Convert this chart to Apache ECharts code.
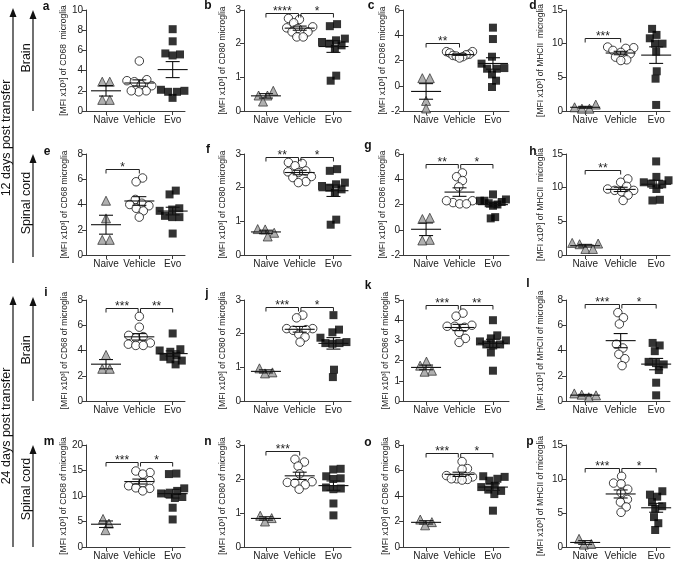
<!DOCTYPE html>
<html><head><meta charset="utf-8">
<script src="https://cdn.jsdelivr.net/npm/echarts@6/dist/echarts.min.js"></script>
<style>html,body{margin:0;padding:0;background:#fff}#c{width:676px;height:561px}</style>
</head><body><div id="c"></div>
<script>
const groups = ['Naive', 'Vehicle', 'Evo'];

const a_naive = [2.9, 2.9, 1.1, 1.1];
const a_vehicle = [4.95, 3.1, 3.0, 2.9, 2.6, 2.5, 2.0, 1.9, 2.0];
const a_evo = [8.1, 6.9, 5.7, 5.6, 5.5, 2.1, 2.0, 1.9, 1.9, 1.3];
const b_naive = [0.6, 0.46, 0.46, 0.28];
const b_vehicle = [2.75, 2.72, 2.62, 2.5, 2.47, 2.45, 2.35, 2.35, 2.2, 2.2];
const b_evo = [2.58, 2.52, 2.15, 2.1, 2.05, 2.0, 1.95, 1.85, 1.05, 0.9];
const c_naive = [0.6, 0.6, -1.2, -1.8];
const c_vehicle = [2.7, 2.7, 2.6, 2.5, 2.45, 2.4, 2.35, 2.3, 2.2];
const c_evo = [4.6, 3.7, 2.3, 1.75, 1.4, 1.35, 1.35, 0.9, 0.4, -0.1];
const d_naive = [0.95, 0.55, 0.35, 0.35];
const d_vehicle = [9.5, 9.4, 9.3, 9.0, 8.7, 8.5, 8.0, 7.6, 7.5];
const d_evo = [12.2, 11.3, 10.8, 10.0, 10.0, 8.8, 5.9, 4.8, 0.9];
const e_naive = [4.3, 2.9, 1.2, 1.2];
const e_vehicle = [6.1, 5.8, 4.4, 4.1, 4.0, 3.9, 3.7, 3.5, 3.0];
const e_evo = [5.1, 4.8, 3.7, 3.6, 3.5, 3.3, 3.1, 3.0, 3.0, 1.7];
const f_naive = [0.77, 0.76, 0.66, 0.55];
const f_vehicle = [2.75, 2.72, 2.65, 2.5, 2.47, 2.45, 2.33, 2.3, 2.18, 2.15];
const f_evo = [2.55, 2.5, 2.15, 2.1, 2.05, 2.0, 1.95, 1.85, 1.05, 0.9];
const g_naive = [0.95, 0.85, -0.8, -0.85];
const g_vehicle = [4.5, 4.2, 3.9, 3.4, 2.3, 2.15, 2.05, 2.05, 2.3];
const g_evo = [2.8, 2.4, 2.3, 2.3, 2.2, 2.1, 2.0, 1.9, 1.0, 0.9];
const h_naive = [1.8, 1.7, 1.6, 0.9, 0.9];
const h_vehicle = [11.3, 10.8, 10.2, 9.8, 9.6, 9.6, 9.4, 8.9, 8.1];
const h_evo = [13.9, 11.6, 11.1, 10.8, 10.6, 10.5, 9.8, 8.2, 8.1];
const i_naive = [3.65, 2.55, 2.55];
const i_vehicle = [6.7, 5.85, 5.2, 5.1, 5.0, 4.6, 4.5, 4.4, 4.4];
const i_evo = [5.35, 4.1, 4.0, 3.9, 3.7, 3.6, 3.5, 3.3, 3.2, 2.9];
const j_naive = [0.97, 0.85, 0.82];
const j_vehicle = [2.55, 2.47, 2.15, 2.15, 2.12, 2.1, 1.98, 1.9, 1.75];
const j_evo = [2.55, 2.12, 2.04, 1.88, 1.75, 1.72, 1.72, 1.7, 0.93, 0.71];
const k_naive = [1.95, 1.75, 1.5, 1.45];
const k_vehicle = [4.35, 4.2, 3.75, 3.7, 3.7, 3.65, 3.4, 3.1, 2.9];
const k_evo = [4.0, 3.25, 3.1, 3.0, 2.95, 2.8, 2.8, 2.75, 2.4, 1.5];
const l_naive = [0.6, 0.45, 0.3, 0.5];
const l_vehicle = [7.0, 6.6, 6.1, 4.5, 4.2, 3.7, 3.35, 2.8];
const l_evo = [4.6, 4.4, 3.95, 3.1, 3.0, 2.9, 2.45, 1.45, 0.45];
const m_naive = [5.5, 4.6, 3.3];
const m_vehicle = [14.9, 14.6, 14.3, 13.0, 12.6, 12.0, 11.6, 11.5, 11.0];
const m_evo = [14.4, 14.3, 11.5, 11.0, 10.5, 10.4, 9.8, 9.6, 7.7, 5.4];
const n_naive = [0.92, 0.85, 0.75];
const n_vehicle = [2.58, 2.5, 2.38, 2.15, 1.92, 1.9, 1.88, 1.83, 1.7];
const n_evo = [2.3, 2.28, 2.08, 2.02, 2.0, 1.75, 1.72, 1.7, 1.28, 0.93];
const o_naive = [2.15, 1.95, 1.7];
const o_vehicle = [6.7, 6.15, 6.1, 5.6, 5.5, 5.35, 5.3, 5.25, 5.35];
const o_evo = [5.55, 5.5, 5.35, 5.2, 4.8, 4.5, 4.7, 4.4, 4.15, 2.85];
const p_naive = [1.2, 0.45, 0.35];
const p_vehicle = [10.4, 9.4, 9.3, 8.5, 8.0, 7.0, 6.6, 5.9, 5.1];
const p_evo = [8.2, 7.7, 7.4, 6.6, 6.0, 5.6, 4.4, 3.5, 2.5];

// y-axis ranges [min, max, interval]
const yRanges = [[0,10,2],[0,3,1],[-2,6,2],[0,15,5],
                 [0,8,2],[0,3,1],[-2,6,2],[0,15,5],
                 [0,8,2],[0,3,1],[0,5,1],[0,8,2],
                 [0,20,5],[0,3,1],[0,8,2],[0,15,5]];
const panelLetters = ['a','b','c','d','e','f','g','h','i','j','k','l','m','n','o','p'];
const yTitles = [
  '[MFI x10³] of CD68  microglia','[MFI x10³] of CD80 microglia','[MFI x10³] of CD86 microglia','[MFI x10³] of MHCII  microglia',
  '[MFI x10³] of CD68 microglia','[MFI x10³] of CD80 microglia','[MFI x10³] of CD86 microglia','[MFI x10³] of MHCII  microglia',
  '[MFI x10³] of CD68 of microglia','[MFI x10³] of CD80 of microglia','[MFI x10³] of CD86 of microglia','[MFI x10³] of MHCII of microglia',
  '[MFI x10³] of CD68 of microglia','[MFI x10³] of CD80 of microglia','[MFI x10³] of CD86 of microglia','[MFI x10³] of MHCII of microglia'];
const sigs = [
  [], [[0,1,'****'],[1,2,'*']], [[0,1,'**']], [[0,1,'***']],
  [[0,1,'*']], [[0,1,'**'],[1,2,'*']], [[0,1,'**'],[1,2,'*']], [[0,1,'**']],
  [[0,1,'***'],[1,2,'**']], [[0,1,'***'],[1,2,'*']], [[0,1,'***'],[1,2,'**']], [[0,1,'***'],[1,2,'*']],
  [[0,1,'***'],[1,2,'*']], [[0,1,'***']], [[0,1,'***'],[1,2,'*']], [[0,1,'***'],[1,2,'*']]];
const panelValues = [
  [a_naive,a_vehicle,a_evo],[b_naive,b_vehicle,b_evo],[c_naive,c_vehicle,c_evo],[d_naive,d_vehicle,d_evo],
  [e_naive,e_vehicle,e_evo],[f_naive,f_vehicle,f_evo],[g_naive,g_vehicle,g_evo],[h_naive,h_vehicle,h_evo],
  [i_naive,i_vehicle,i_evo],[j_naive,j_vehicle,j_evo],[k_naive,k_vehicle,k_evo],[l_naive,l_vehicle,l_evo],
  [m_naive,m_vehicle,m_evo],[n_naive,n_vehicle,n_evo],[o_naive,o_vehicle,o_evo],[p_naive,p_vehicle,p_evo]];

// ---- layout ----
const FONT = '"Liberation Sans", Arial, sans-serif';
const AX = '#3a3a3a';
const rows = [{top:10,h:101},{top:154,h:101},{top:300,h:101},{top:445,h:102}];
const cols = [
  {left:86, w:99, xmin:-0.6, xmax:2.37, tcx:64},
  {left:244,w:107,xmin:-0.65,xmax:2.52, tcx:222},
  {left:403,w:106,xmin:-0.69,xmax:2.48, tcx:391},
  {left:566,w:104,xmin:-0.54,xmax:2.39, tcx:540}];
const letterPos = [[46,7],[208,6],[371,6],[533,6],[47,152],[208,150],[368,146],[533,152],
                   [46,293],[207,294],[368,286],[528,284],[49,442],[208,442],[368,443],[530,442]];
const markers = [
  {symbol:'triangle', size:9, style:{color:'#9c9c9c', borderColor:'#2a2a2a', borderWidth:0.9}},
  {symbol:'circle', size:8.5, style:{color:'#ffffff', borderColor:'#111', borderWidth:1}},
  {symbol:'rect', size:8, style:{color:'#000000', borderColor:'#000', borderWidth:0}}];
const D = 7.5, HALF = 13;

function swarm(py) {
  const order = py.map((v,i)=>i).sort((p,q)=>py[p]-py[q]);
  const placed = []; const xs = new Array(py.length);
  for (const i of order) {
    const y = py[i];
    const cands = [0];
    for (const p of placed) {
      const dy = Math.abs(p.y - y);
      if (dy < D) { const dx = Math.sqrt(D*D - dy*dy); cands.push(p.x + dx, p.x - dx); }
    }
    cands.sort((u,v)=>Math.abs(u)-Math.abs(v) || v-u);
    let x = 0;
    for (const c of cands) {
      if (placed.every(p => (p.x-c)*(p.x-c) + (p.y-y)*(p.y-y) >= D*D - 0.01)) { x = c; break; }
    }
    placed.push({x, y, i}); xs[i] = x;
  }
  const sorted = placed.slice().sort((p,q)=>p.y-q.y);
  let start = 0;
  for (let k = 1; k <= sorted.length; k++) {
    if (k === sorted.length || sorted[k].y - sorted[k-1].y >= D) {
      const cl = sorted.slice(start, k);
      const mn = Math.min(...cl.map(p=>p.x)), mx = Math.max(...cl.map(p=>p.x));
      const sh = (mn + mx) / 2;
      cl.forEach(p => { xs[p.i] = p.x - sh; });
      start = k;
    }
  }
  const ext = Math.max(...xs.map(Math.abs));
  if (ext > HALF) for (let i = 0; i < xs.length; i++) xs[i] *= HALF/ext;
  return xs;
}
function meanSem(v) {
  const n = v.length, m = v.reduce((s,x)=>s+x,0)/n;
  const sd = Math.sqrt(v.reduce((s,x)=>s+(x-m)*(x-m),0)/(n-1));
  return [m, sd/Math.sqrt(n)];
}

const grid = [], xAxis = [], yAxis = [], series = [];
panelValues.forEach((vals, k) => {
  const r = rows[Math.floor(k/4)], c = cols[k%4], yr = yRanges[k];
  grid.push({left:c.left, top:r.top, width:c.w, height:r.h});
  xAxis.push({type:'value', gridIndex:k, min:c.xmin, max:c.xmax,
    axisLine:{onZero:false, lineStyle:{color:AX, width:1}},
    axisTick:{show:true, customValues:[0,1,2], length:4, lineStyle:{color:AX}},
    axisLabel:{customValues:[0,1,2], formatter:v=>groups[Math.round(v)], fontSize:10, color:'#222', margin:4, fontFamily:FONT},
    splitLine:{show:false}});
  yAxis.push({type:'value', gridIndex:k, min:yr[0], max:yr[1], interval:yr[2],
    name:yTitles[k], nameLocation:'middle', nameRotate:90, nameGap:c.left - c.tcx - 5,
    nameTextStyle:{fontSize:8.5, color:'#222', fontFamily:FONT},
    axisLine:{show:true, onZero:false, lineStyle:{color:AX, width:1}},
    axisTick:{show:true, length:4, lineStyle:{color:AX}},
    axisLabel:{fontSize:10, color:'#222', margin:3, fontFamily:FONT},
    splitLine:{show:false}});
  const pxY = r.h/(yr[1]-yr[0]), pxX = c.w/(c.xmax-c.xmin);
  vals.forEach((v, g) => {
    const offs = swarm(v.map(y=>y*pxY));
    series.push({type:'scatter', xAxisIndex:k, yAxisIndex:k, symbol:markers[g].symbol, symbolSize:markers[g].size,
      itemStyle:markers[g].style, z:2, silent:true,
      data:v.map((y,i)=>[g + offs[i]/pxX, y])});
  });
  const stats = vals.map((v,g)=>{ const ms = meanSem(v); return [g, ms[0], ms[1]]; });
  series.push({type:'custom', xAxisIndex:k, yAxisIndex:k, z:5, silent:true, data:stats,
    renderItem:(params, api)=>{
      const g = api.value(0), m = api.value(1), s = api.value(2);
      const cm = api.coord([g, m]), up = api.coord([g, m+s]), lo = api.coord([g, m-s]);
      const st = {stroke:'#111', lineWidth:1.1};
      return {type:'group', children:[
        {type:'line', shape:{x1:cm[0]-15, y1:cm[1], x2:cm[0]+15, y2:cm[1]}, style:st},
        {type:'line', shape:{x1:cm[0], y1:up[1], x2:cm[0], y2:lo[1]}, style:st},
        {type:'line', shape:{x1:cm[0]-7, y1:up[1], x2:cm[0]+7, y2:up[1]}, style:st},
        {type:'line', shape:{x1:cm[0]-7, y1:lo[1], x2:cm[0]+7, y2:lo[1]}, style:st}]};
    }});
  const sg = sigs[k];
  if (sg.length) {
    const span = yr[1]-yr[0];
    const hiG = Math.max(...sg.map(s=>s[1]));
    let top = -Infinity;
    for (let g = 0; g <= hiG; g++) top = Math.max(top, ...vals[g]);
    const level = Math.min(top + 0.085*span, yr[1] - 0.03*span);
    series.push({type:'custom', xAxisIndex:k, yAxisIndex:k, z:6, silent:true,
      data:sg.map(s=>[s[0], s[1], level]),
      renderItem:(params, api)=>{
        const s = sg[params.dataIndex];
        const a = api.coord([s[0], level]), b = api.coord([s[1], level]);
        const x1 = a[0] + (s[0]===1 && sg.length>1 ? 1.2 : 0);
        const x2 = b[0] - (s[1]===1 && sg.length>1 ? 1.2 : 0);
        const y = Math.round(a[1]) + 0.5;
        return {type:'group', children:[
          {type:'polyline', shape:{points:[[x1,y+4],[x1,y],[x2,y],[x2,y+4]]}, style:{stroke:'#222', lineWidth:1, fill:null}},
          {type:'text', x:(x1+x2)/2, y:y+4, style:{text:s[2], font:'12px '+FONT, fill:'#222', textAlign:'center', textVerticalAlign:'bottom'}}]};
      }});
  }
});

// ---- annotations ----
const graphic = [];
function arrow(x, yb, yt) {
  graphic.push({type:'line', shape:{x1:x, y1:yb, x2:x, y2:yt+6}, style:{stroke:'#111', lineWidth:1.2}});
  graphic.push({type:'polygon', shape:{points:[[x-3.5,yt+9],[x+3.5,yt+9],[x,yt]]}, style:{fill:'#111'}});
}
function vtext(t, x, y, size) {
  graphic.push({type:'text', x:x, y:y, rotation:Math.PI/2,
    style:{text:t, font:size+'px '+FONT, fill:'#111', textAlign:'center', textVerticalAlign:'middle'}});
}
arrow(13, 263, 8); arrow(13, 547, 296);
arrow(33, 111, 10); arrow(33, 257, 154); arrow(33, 401, 297); arrow(33, 547, 445);
vtext('12 days post transfer', 7, 138, 12.5);
vtext('24 days post transfer', 7, 426, 12.5);
vtext('Brain', 27, 58, 12.5); vtext('Spinal cord', 27, 203, 12.5);
vtext('Brain', 27, 350, 12.5); vtext('Spinal cord', 27, 489, 12.5);
panelLetters.forEach((L, k) => {
  graphic.push({type:'text', x:letterPos[k][0], y:letterPos[k][1],
    style:{text:L, font:'bold 12px '+FONT, fill:'#111', textAlign:'center', textVerticalAlign:'middle'}});
});

const chart = echarts.init(document.getElementById('c'));
chart.setOption({animation:false, backgroundColor:'#fff', grid, xAxis, yAxis, series, graphic});
</script></body></html>
